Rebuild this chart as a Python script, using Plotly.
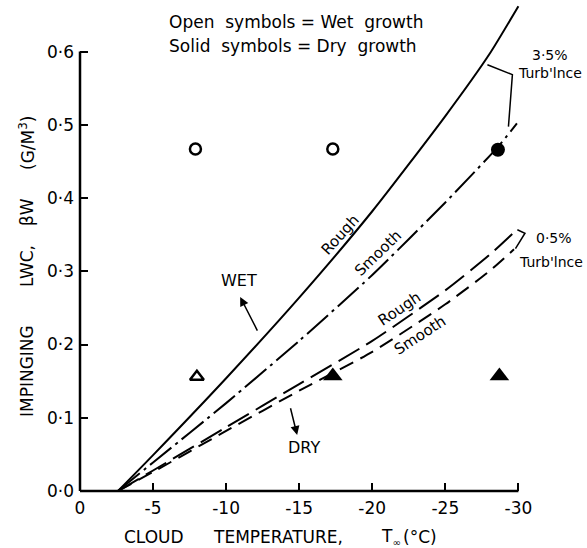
import plotly.graph_objects as go

# Impinging LWC (g/m^3) limit curves against cloud temperature (deg C)
wet_rough_temp = [-2.6, -5, -10, -15, -20, -25, -28, -30]
wet_rough_lwc = [0.0, 0.049, 0.154, 0.264, 0.382, 0.512, 0.596, 0.662]

wet_smooth_temp = [-2.6, -5, -10, -15, -20, -25, -28.6, -29.9]
wet_smooth_lwc = [0.0, 0.039, 0.120, 0.205, 0.295, 0.394, 0.470, 0.502]

dry_rough_temp = [-2.6, -5, -10, -15, -20, -25, -28, -29.9]
dry_rough_lwc = [0.0, 0.028, 0.087, 0.146, 0.205, 0.274, 0.322, 0.357]

dry_smooth_temp = [-2.6, -5, -10, -15, -20, -25, -28, -29.7]
dry_smooth_lwc = [0.0, 0.026, 0.082, 0.137, 0.190, 0.255, 0.300, 0.330]

# Test points: circles = 3.5% turbulence, triangles = 0.5% turbulence
wet_circle_temp = [-7.9, -17.3]
wet_circle_lwc = [0.467, 0.467]
dry_circle_temp = [-28.6]
dry_circle_lwc = [0.466]
wet_tri_temp = [-8.0]
wet_tri_lwc = [0.156]
dry_tri_temp = [-17.3, -28.7]
dry_tri_lwc = [0.157, 0.157]

x_ticks = [0, -5, -10, -15, -20, -25, -30]
x_tick_text = ["0", "-5", "-10", "-15", "-20", "-25", "-30"]
y_ticks = [0.0, 0.1, 0.2, 0.3, 0.4, 0.5, 0.6]
y_tick_text = ["0·0", "0·1", "0·2", "0·3", "0·4", "0·5", "0·6"]

# Axis titles, set word by word with wide lettering gaps
x_title_words = ["CLOUD", "TEMPERATURE,",
                 "T<sub><span style='font-size:10px'>∞</span></sub>", "(°C)"]
y_title_words = ["IMPINGING", "LWC,", "βW", "(G/M<sup>3</sup>)"]

FONT = "DejaVu Sans"
INK = "black"
NB = "\u00a0"

W, H = 587, 548
ML, MR, MT, MB = 80, 54, 4, 57
PW, PH = W - ML - MR, H - MT - MB


def px_x(px):
    return (px - ML) / PW


def px_y(py):
    return (H - MB - py) / PH


fig = go.Figure()

curve = dict(color=INK, width=2, shape="spline", smoothing=0.6)
fig.add_trace(go.Scatter(x=wet_rough_temp, y=wet_rough_lwc, mode="lines",
                         line=curve))
fig.add_trace(go.Scatter(x=wet_smooth_temp, y=wet_smooth_lwc, mode="lines",
                         line=dict(curve, dash="28px,5px,3px,5px")))
fig.add_trace(go.Scatter(x=dry_rough_temp, y=dry_rough_lwc, mode="lines",
                         line=dict(curve, dash="24px,8px")))
fig.add_trace(go.Scatter(x=dry_smooth_temp, y=dry_smooth_lwc, mode="lines",
                         line=dict(curve, dash="15px,8px")))

fig.add_trace(go.Scatter(x=wet_circle_temp, y=wet_circle_lwc, mode="markers",
                         marker=dict(symbol="circle-open", size=11, color=INK,
                                     line=dict(width=2.5, color=INK))))
fig.add_trace(go.Scatter(x=dry_circle_temp, y=dry_circle_lwc, mode="markers",
                         marker=dict(symbol="circle", size=14, color=INK)))
fig.add_trace(go.Scatter(x=wet_tri_temp, y=wet_tri_lwc, mode="markers",
                         marker=dict(symbol="triangle-up-open", size=12, color=INK,
                                     line=dict(width=2.5, color=INK))))
fig.add_trace(go.Scatter(x=dry_tri_temp, y=dry_tri_lwc, mode="markers",
                         marker=dict(symbol="triangle-up", size=17, color=INK)))

# Axis lines stop at the last tick on each axis
shapes = [
    dict(type="line", xref="paper", yref="paper", x0=0, x1=30 / 31, y0=0, y1=0,
         line=dict(color=INK, width=2.5)),
    dict(type="line", xref="paper", yref="paper", x0=0, x1=0, y0=0, y1=0.6 / 0.665,
         line=dict(color=INK, width=2.5)),
    # brackets tying the turbulence labels to their curve pairs
    dict(type="path", xref="x", yref="y",
         path="M -27.88 0.582 L -29.59 0.5685 L -29.32 0.4975",
         line=dict(color=INK, width=1.5)),
    dict(type="path", xref="x", yref="y",
         path="M -29.93 0.3567 L -30.45 0.352 L -29.8 0.331",
         line=dict(color=INK, width=1.5)),
]


def txt(s, x, y, size=16, angle=0, xref="x", yref="y", xanchor="center"):
    return dict(text=s, x=x, y=y, xref=xref, yref=yref, showarrow=False,
                textangle=angle, xanchor=xanchor, yanchor="middle",
                font=dict(family=FONT, size=size, color=INK))


annotations = [
    txt("Open" + NB * 2 + "symbols" + NB + "=" + NB + "Wet" + NB * 2 + "growth",
        px_x(167), px_y(22), size=17, xref="paper", yref="paper", xanchor="left"),
    txt("Solid" + NB * 2 + "symbols" + NB + "=" + NB + "Dry" + NB * 2 + "growth",
        px_x(167), px_y(46), size=17, xref="paper", yref="paper", xanchor="left"),
    txt("WET", -10.89, 0.287, size=16),
    txt("DRY", -15.34, 0.060, size=16),
    txt("Rough", -17.81, 0.349, size=15, angle=-48),
    txt("Smooth", -20.4, 0.325, size=15, angle=-44),
    txt("Rough", -21.85, 0.248, size=15, angle=-34),
    txt("Smooth", -23.3, 0.213, size=15, angle=-33),
    txt("3·5%", px_x(550), px_y(55), size=14, xref="paper", yref="paper"),
    txt("Turb'lnce", px_x(550), px_y(73), size=14, xref="paper", yref="paper"),
    txt("0·5%", px_x(554), px_y(238), size=14, xref="paper", yref="paper"),
    txt("Turb'lnce", px_x(551), px_y(262), size=14, xref="paper", yref="paper"),
    # arrows pointing from the curve bundles to the WET / DRY labels
    dict(x=-10.96, y=0.265, ax=-12.19, ay=0.217, xref="x", yref="y",
         axref="x", ayref="y", text="", showarrow=True, arrowhead=2,
         arrowsize=1.2, arrowwidth=1.5, arrowcolor=INK),
    dict(x=-14.86, y=0.0765, ax=-14.38, ay=0.115, xref="x", yref="y",
         axref="x", ayref="y", text="", showarrow=True, arrowhead=2,
         arrowsize=1.2, arrowwidth=1.5, arrowcolor=INK),
]

# x title words: left edges of each word along the bottom
for word, left in zip(x_title_words, [122, 211, 379, 401]):
    annotations.append(txt(word, px_x(left), px_y(537), size=17,
                           xref="paper", yref="paper", xanchor="left"))

# y title words: vertical centres along the left margin
for word, centre in zip(y_title_words, [371, 266, 212, 143]):
    annotations.append(txt(word, px_x(27), px_y(centre), size=17, angle=-90,
                           xref="paper", yref="paper"))

axis_common = dict(showgrid=False, zeroline=False, showline=False,
                   ticks="inside", ticklen=8, tickwidth=2, tickcolor=INK,
                   tickfont=dict(family=FONT, size=17, color=INK))

fig.update_layout(
    width=W, height=H,
    margin=dict(l=ML, r=MR, t=MT, b=MB),
    paper_bgcolor="white", plot_bgcolor="white",
    showlegend=False,
    xaxis=dict(range=[0, -31], tickvals=x_ticks, ticktext=x_tick_text,
               ticklabelstandoff=5, **axis_common),
    yaxis=dict(range=[0, 0.665], tickvals=y_ticks, ticktext=y_tick_text,
               ticklabelstandoff=5, **axis_common),
    shapes=shapes,
    annotations=annotations,
)

fig.write_html("out.html")
